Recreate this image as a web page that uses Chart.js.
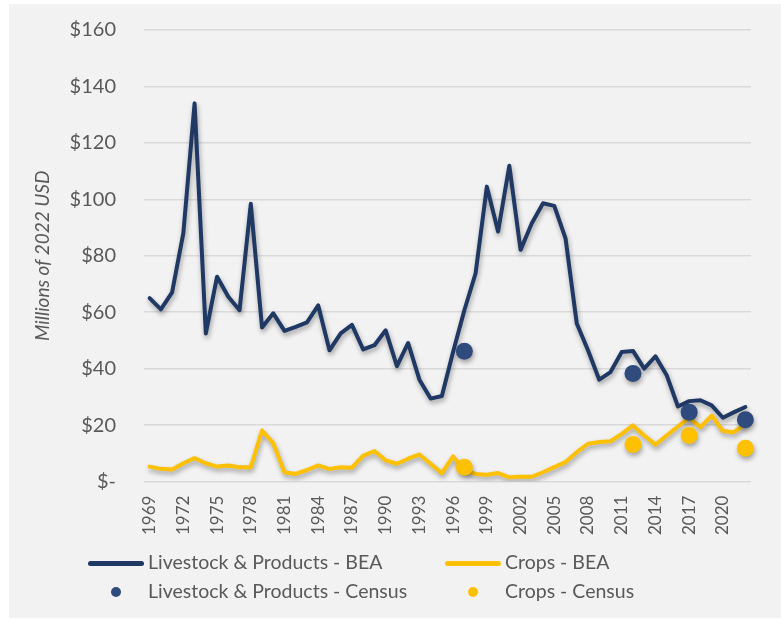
<!DOCTYPE html>
<html>
<head>
<meta charset="utf-8">
<script src="https://cdn.jsdelivr.net/npm/chart.js@4/dist/chart.umd.min.js"></script>
<style>
  body { margin: 0; background: #ffffff; }
  #frame { position: absolute; left: 9px; top: 4px; width: 772px; height: 614px; background: #f2f2f2; }
  #chartBox { position: absolute; left: 0; top: 0; width: 781px; height: 552px; }
  .legend { position: absolute; font-family: Lato, "Open Sans", sans-serif; font-size: 19.5px; color: #595959; }
  .legend .item { position: absolute; white-space: nowrap; }
  .legend .line { position: absolute; height: 5px; border-radius: 3px; }
  .legend .dot { position: absolute; width: 10px; height: 10px; border-radius: 50%; }
</style>
</head>
<body>
<div id="frame"></div>
<div id="chartBox"><canvas id="chart"></canvas></div>
<div class="legend" id="legend"></div>
<script>
// years 1969..2022
const years = [];
for (let y = 1969; y <= 2022; y++) years.push(String(y));

// BEA series, millions of 2022 USD
const livestockBEA = [
  65, 61, 67, 88, 134, 52.5, 72.6, 65.5, 60.7, 98.4,
  54.6, 59.6, 53.4, 54.8, 56.4, 62.4, 46.5, 52.5, 55.5, 46.8,
  48.3, 53.6, 40.9, 49.1, 36.1, 29.4, 30.3, 46, 60.7, 73.8,
  104.5, 88.6, 111.9, 82.1, 91.5, 98.6, 97.7, 86.2, 56, 46.5,
  36.1, 38.8, 45.9, 46.3, 40, 44.4, 37.7, 26.6, 28.5, 28.8,
  27, 22.6, 24.6, 26.4
];
const cropsBEA = [
  5.3, 4.5, 4.3, 6.5, 8.3, 6.5, 5.3, 5.7, 5.1, 5.1,
  18.1, 13.6, 3.3, 2.7, 4.1, 5.7, 4.5, 5.1, 4.9, 9.2,
  10.8, 7.5, 6.3, 8.1, 9.6, 6.3, 3, 8.9, 3.9, 2.7,
  2.4, 3, 1.5, 1.7, 1.7, 3.3, 5.1, 6.9, 10.4, 13.4,
  14, 14.3, 16.9, 19.9, 16.3, 13.1, 16.3, 19.5, 22.6, 19.3,
  23.4, 17.9, 17.5, 20.5
];

// Census of Agriculture points
const censusYears = ['1997', '2012', '2017', '2022'];
const livestockCensus = [46.2, 38.3, 24.6, 21.9];
const cropsCensus = [5.1, 13.1, 16.3, 11.8];

const yTicks = [0, 20, 40, 60, 80, 100, 120, 140, 160];

const navy = '#1f3864';
const navyDot = '#2f4a7c';
const gold = '#ffc000';

function sparse(values) {
  return years.map(y => {
    const i = censusYears.indexOf(y);
    return i >= 0 ? values[i] : null;
  });
}

// soft drop shadow like the office chart
const shadowPlugin = {
  id: 'shadow',
  beforeDatasetsDraw(chart) {
    const ctx = chart.ctx;
    ctx.save();
    ctx.shadowColor = 'rgba(0,0,0,0.35)';
    ctx.shadowBlur = 5;
    ctx.shadowOffsetX = 1;
    ctx.shadowOffsetY = 3;
  },
  afterDatasetsDraw(chart) {
    chart.ctx.restore();
  }
};

const ctx = document.getElementById('chart').getContext('2d');
new Chart(ctx, {
  type: 'line',
  data: {
    labels: years,
    datasets: [
      { label: 'Livestock & Products - Census', data: sparse(livestockCensus), showLine: false,
        pointRadius: 8.5, pointBackgroundColor: navyDot, pointBorderWidth: 0, order: 0 },
      { label: 'Crops - Census', data: sparse(cropsCensus), showLine: false,
        pointRadius: 8.5, pointBackgroundColor: gold, pointBorderWidth: 0, order: 0 },
      { label: 'Livestock & Products - BEA', data: livestockBEA, borderColor: navy, borderWidth: 4,
        pointRadius: 0, tension: 0, borderJoinStyle: 'round', borderCapStyle: 'round', order: 2 },
      { label: 'Crops - BEA', data: cropsBEA, borderColor: gold, borderWidth: 4,
        pointRadius: 0, tension: 0, borderJoinStyle: 'round', borderCapStyle: 'round', order: 1 }
    ]
  },
  options: {
    responsive: true,
    maintainAspectRatio: false,
    animation: false,
    layout: { padding: { top: 30, right: 30, bottom: 11, left: 0 } },
    plugins: { legend: { display: false }, tooltip: { enabled: false } },
    scales: {
      x: {
        offset: true,
        grid: { display: false },
        border: { display: false },
        ticks: {
          autoSkip: false,
          maxRotation: 90,
          minRotation: 90,
          padding: 6,
          color: '#595959',
          font: { family: 'Lato', size: 17 },
          callback: function (val, i) {
            return (i % 3 === 0) ? years[i] : null;
          }
        }
      },
      y: {
        min: 0,
        max: 160,
        afterBuildTicks: function (scale) {
          scale.ticks = yTicks.map(v => ({ value: v }));
        },
        afterFit: function (scale) { scale.width = 144; },
        grid: { color: '#d9d9d9', lineWidth: 1.5, drawTicks: true, tickLength: 25, tickColor: 'rgba(0,0,0,0)' },
        border: { display: false },
        ticks: {
          padding: 3,
          color: '#595959',
          font: { family: 'Lato', size: 20 },
          callback: v => v === 0 ? '$-' : '$' + v
        },
        title: {
          display: true,
          text: 'Millions of 2022 USD',
          color: '#595959',
          padding: { top: 31, bottom: 0 },
          font: { family: 'Lato', size: 19, style: 'italic' }
        }
      }
    }
  },
  plugins: [shadowPlugin]
});

// legend laid out as a 2x2 grid like the original
const legendItems = [
  { text: 'Livestock & Products - BEA', kind: 'line', color: navy, x: 88, y: 563 },
  { text: 'Crops - BEA', kind: 'line', color: gold, x: 445, y: 563 },
  { text: 'Livestock & Products - Census', kind: 'dot', color: navyDot, x: 88, y: 592 },
  { text: 'Crops - Census', kind: 'dot', color: gold, x: 445, y: 592 }
];
const legend = document.getElementById('legend');
legendItems.forEach(item => {
  const mark = document.createElement('div');
  if (item.kind === 'line') {
    mark.className = 'line';
    mark.style.left = item.x + 'px';
    mark.style.top = (item.y - 2.5) + 'px';
    mark.style.width = '56px';
  } else {
    mark.className = 'dot';
    mark.style.left = (item.x + 23) + 'px';
    mark.style.top = (item.y - 5) + 'px';
  }
  mark.style.background = item.color;
  legend.appendChild(mark);
  const label = document.createElement('div');
  label.className = 'item';
  label.textContent = item.text;
  label.style.left = (item.x + 60) + 'px';
  label.style.top = (item.y - 13) + 'px';
  legend.appendChild(label);
});
</script>
</body>
</html>
